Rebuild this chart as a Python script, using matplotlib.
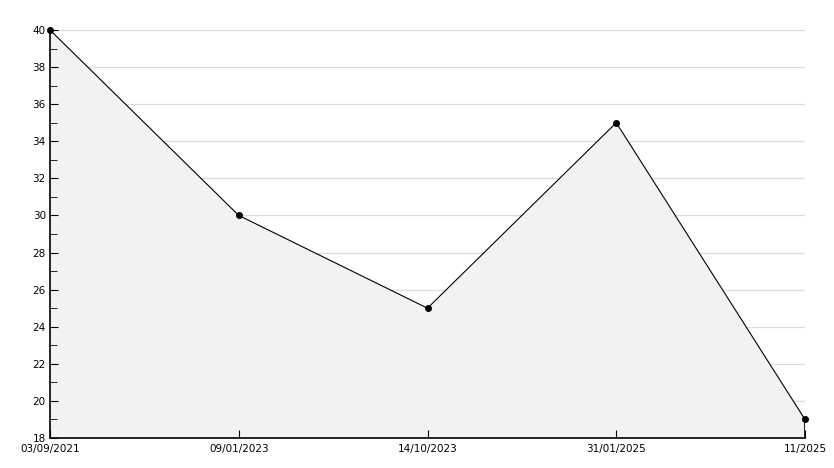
import matplotlib
matplotlib.use("Agg")
import matplotlib.pyplot as plt
from matplotlib.ticker import MultipleLocator

dates = ["03/09/2021", "09/01/2023", "14/10/2023", "31/01/2025", "11/2025"]
values = [40, 30, 25, 35, 19]

fig = plt.figure(figsize=(8.34, 4.68), dpi=100)
ax = fig.add_axes([50 / 834, 30 / 468, 755 / 834, 408 / 468])

x = list(range(len(dates)))
ax.set_xlim(0, len(dates) - 1)
ax.set_ylim(18, 40)
ax.yaxis.set_major_locator(MultipleLocator(2))
ax.yaxis.set_minor_locator(MultipleLocator(1))
ax.set_xticks(x)
ax.set_xticklabels(dates)

# grid lines sit behind the filled area
for t in range(20, 41, 2):
    ax.axhline(t, color="#dcdcdc", lw=0.9, zorder=0)

ax.fill_between(x, values, 18, color="#f2f2f2", lw=0, zorder=1)
ax.plot(x, values, color="black", lw=0.8, zorder=3)
ax.plot(x, values, "o", color="black", ms=4, zorder=4, clip_on=False)
ax.vlines(x[-1], 18, values[-1], color="black", lw=1.2, zorder=3)

for s in ["top", "right"]:
    ax.spines[s].set_visible(False)
for s in ["left", "bottom"]:
    ax.spines[s].set_linewidth(1.2)
    ax.spines[s].set_zorder(5)

ax.tick_params(axis="both", which="both", direction="in", labelsize=7.5, pad=3)
ax.tick_params(axis="y", which="major", length=6)
ax.tick_params(axis="y", which="minor", length=5)
ax.tick_params(axis="x", length=6, pad=4)

fig.savefig("out.png", dpi=100)
